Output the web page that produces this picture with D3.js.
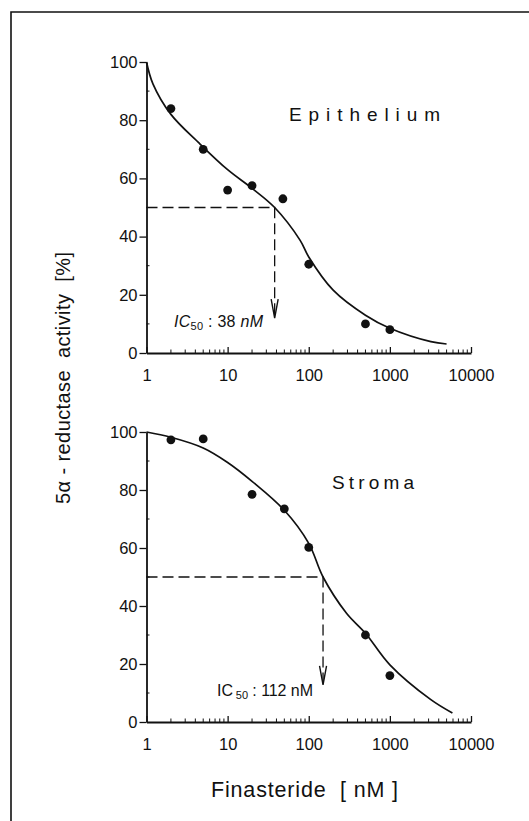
<!DOCTYPE html>
<html>
<head>
<meta charset="utf-8">
<script src="https://cdn.jsdelivr.net/npm/d3@7"></script>
<style>
  body { margin: 0; background: #fff; }
  svg { display: block; font-family: "Liberation Sans", Arial, sans-serif; }
  text { fill: #111; }
</style>
</head>
<body>
<svg id="chart" width="529" height="821"></svg>
<script>
// ---- data ----
// Epithelium: measured points
const epiDoseNM = [2, 5, 10, 20, 48, 100, 500, 1000];
const epiActivity = [84, 70, 56, 57.5, 53, 30.5, 10, 8];
// Epithelium: fitted curve (as drawn)
const epiCurveDose = [1, 1.2, 2, 4.5, 10, 20, 38, 78, 100, 200, 500, 1000, 3200, 5000];
const epiCurveAct = [100, 92.5, 82, 72, 63, 56.6, 50, 38.8, 33, 21.6, 13, 8.5, 3.9, 3.1];

// Stroma: measured points
const strDoseNM = [2, 5, 20, 50, 100, 500, 1000];
const strActivity = [97.3, 97.6, 78.5, 73.5, 60.2, 30, 16];
// Stroma: fitted curve (as drawn)
const strCurveDose = [1, 2, 5, 10, 20, 50, 100, 150, 292, 500, 1000, 3200, 5900];
const strCurveAct = [100, 98.2, 94.5, 89.5, 83, 73, 61.6, 50, 37.5, 30.6, 19.7, 7.7, 3.1];

const xTickValues = [1, 10, 100, 1000, 10000];
const yTickValues = [0, 20, 40, 60, 80, 100];

const svg = d3.select("#chart");

// frame around the figure (only top and left edge show)
svg.append("path")
  .attr("d", "M11,821 L11,12 L529,12")
  .attr("fill", "none")
  .attr("stroke", "#111")
  .attr("stroke-width", 1.6);

const x = d3.scaleLog().domain([1, 10000]).range([146.5, 471]);

// minor ticks 2..9 in each decade
let minorX = [];
for (let d = 1; d < 10000; d *= 10) {
  for (let k = 2; k <= 9; k++) minorX.push(d * k);
}

const panels = [
  {name: "Epithelium", top: 62, bottom: 353,
   dose: epiDoseNM, act: epiActivity, cDose: epiCurveDose, cAct: epiCurveAct,
   ic50x: 38, arrowTip: 12, titleX: 289, titleY: 121, titleLen: 151,
   labelX: 174, labelY: 327, italic: true, ic50Text: "38 nM"},
  {name: "Stroma", top: 432, bottom: 722,
   dose: strDoseNM, act: strActivity, cDose: strCurveDose, cAct: strCurveAct,
   ic50x: 150, arrowTip: 12.8, titleX: 332, titleY: 489, titleLen: 82,
   labelX: 217, labelY: 696, italic: false, ic50Text: "112 nM"}
];

panels.forEach(p => {
  const y = d3.scaleLinear().domain([0, 100]).range([p.bottom, p.top]);
  const g = svg.append("g");

  // x axis: ticks pointing up, labels below
  const xAxis = g.append("g")
    .attr("transform", `translate(0,${p.bottom})`)
    .call(d3.axisBottom(x).tickValues(xTickValues).tickFormat(d3.format("d"))
      .tickSize(-6).tickSizeOuter(0).tickPadding(16));
  xAxis.selectAll(".tick text").attr("font-size", 16.5).attr("font-family", "Liberation Sans, Arial, sans-serif");
  xAxis.append("g").selectAll("line").data(minorX).join("line")
    .attr("x1", d => x(d)).attr("x2", d => x(d))
    .attr("y1", 0).attr("y2", -3.5)
    .attr("stroke", "#111");

  // y axis
  const yAxis = g.append("g")
    .attr("transform", `translate(${x(1)},0)`)
    .call(d3.axisLeft(y).tickValues(yTickValues).tickSize(7).tickSizeOuter(0).tickPadding(2));
  yAxis.selectAll(".tick text").attr("font-size", 16.5).attr("font-family", "Liberation Sans, Arial, sans-serif");
  yAxis.append("g").selectAll("line").data([10, 30, 50, 70, 90]).join("line")
    .attr("x1", 0).attr("x2", 3)
    .attr("y1", d => y(d)).attr("y2", d => y(d))
    .attr("stroke", "#111");

  g.selectAll(".domain").attr("stroke", "#111").attr("stroke-width", 1.8);
  g.selectAll(".tick line").attr("stroke", "#111").attr("stroke-width", 1.3);

  // IC50 dashed guide and arrow
  g.append("path")
    .attr("d", `M${x(1)},${y(50)} H${x(p.ic50x)} V${y(p.arrowTip)}`)
    .attr("fill", "none")
    .attr("stroke", "#111")
    .attr("stroke-width", 1.3)
    .attr("stroke-dasharray", "11,5");
  g.append("path")
    .attr("d", `M${x(p.ic50x) - 3.5},${y(p.arrowTip) - 19} L${x(p.ic50x)},${y(p.arrowTip)} L${x(p.ic50x) + 3.5},${y(p.arrowTip) - 19}`)
    .attr("fill", "none")
    .attr("stroke", "#111")
    .attr("stroke-width", 1.4);

  // IC50 label
  const lab = g.append("text")
    .attr("x", p.labelX).attr("y", p.labelY)
    .attr("font-size", 16)
    .attr("textLength", p.italic ? 89 : 96)
    .attr("lengthAdjust", "spacing");
  lab.append("tspan").text("IC").attr("font-style", p.italic ? "italic" : "normal");
  lab.append("tspan").text(p.italic ? "50" : " 50").attr("font-size", 11).attr("dy", 3);
  lab.append("tspan").text(" : ").attr("dy", -3);
  lab.append("tspan").text(p.ic50Text.split(" ")[0] + " ");
  lab.append("tspan").text("nM").attr("font-style", p.italic ? "italic" : "normal");

  // fitted curve
  const curve = d3.line()
    .x(d => x(d[0]))
    .y(d => y(d[1]))
    .curve(d3.curveCatmullRom.alpha(0.5));
  g.append("path")
    .datum(p.cDose.map((d, i) => [d, p.cAct[i]]))
    .attr("d", curve)
    .attr("fill", "none")
    .attr("stroke", "#111")
    .attr("stroke-width", 1.7);

  // measured points
  g.selectAll("circle.pt")
    .data(p.dose.map((d, i) => [d, p.act[i]]))
    .join("circle")
    .attr("class", "pt")
    .attr("cx", d => x(d[0]))
    .attr("cy", d => y(d[1]))
    .attr("r", 4.4)
    .attr("fill", "#111");

  // panel title
  g.append("text")
    .attr("x", p.titleX).attr("y", p.titleY)
    .attr("font-size", 19)
    .attr("textLength", p.titleLen)
    .attr("lengthAdjust", "spacing")
    .text(p.name);
});

// axis titles
svg.append("text")
  .attr("transform", "translate(70,378) rotate(-90)")
  .attr("text-anchor", "middle")
  .attr("font-size", 20)
  .attr("textLength", 252)
  .attr("lengthAdjust", "spacing")
  .style("white-space", "pre")
  .text("5α - reductase  activity  [%]");

svg.append("text")
  .attr("x", 211).attr("y", 797)
  .attr("font-size", 21.5)
  .attr("textLength", 187)
  .attr("lengthAdjust", "spacing")
  .style("white-space", "pre")
  .text("Finasteride  [ nM ]");
</script>
</body>
</html>
